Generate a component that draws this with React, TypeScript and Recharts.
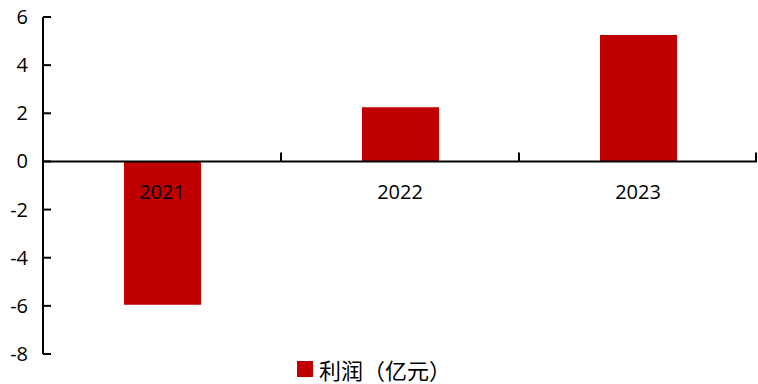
import React from 'react';
import { BarChart, Bar, XAxis, YAxis, ReferenceLine, Legend } from 'recharts';

const years = ['2021', '2022', '2023'];
const profit = [-5.95, 2.25, 5.25];
const yTicks = [-8, -6, -4, -2, 0, 2, 4, 6];
const seriesName = '利润（亿元）';

const data = years.map((year, i) => ({ year, profit: profit[i] }));

const W = 758;
const H = 384;
const TOP = 17;
const PLOT_H = 337;
const Y_MIN = -8;
const Y_MAX = 6;
const zeroY = TOP + (PLOT_H * Y_MAX) / (Y_MAX - Y_MIN);
const FONT = '"Open Sans", "Noto Sans CJK SC", sans-serif';

const YTick = (props: any) => {
  const { x, y, payload } = props;
  return (
    <g>
      <line x1={x} y1={y} x2={x + 8} y2={y} stroke="#000" strokeWidth={2} />
      <text x={x - 15} y={y} dy={7} textAnchor="end" fontSize={20} fontFamily={FONT} fill="#000">
        {payload.value}
      </text>
    </g>
  );
};

const XTick = (props: any) => {
  const { x, payload, index, visibleTicksCount } = props;
  const half = 119;
  return (
    <g>
      {index > 0 && (
        <line x1={x - half} y1={zeroY - 9} x2={x - half} y2={zeroY} stroke="#000" strokeWidth={2} />
      )}
      {index === visibleTicksCount - 1 && (
        <line x1={x + half - 1} y1={zeroY - 9} x2={x + half - 1} y2={zeroY} stroke="#000" strokeWidth={2} />
      )}
      <text x={x} y={zeroY + 38} textAnchor="middle" fontSize={20} fontFamily={FONT} fill="#000">
        {payload.value}
      </text>
    </g>
  );
};

const LegendContent = () => (
  <div style={{ display: 'flex', alignItems: 'center', paddingLeft: 297, height: 28 }}>
    <span style={{ width: 16, height: 16, background: '#C00000', display: 'inline-block' }} />
    <span
      style={{
        marginLeft: 6,
        fontSize: 22,
        fontFamily: '"Noto Sans CJK SC", sans-serif',
        color: '#000',
        lineHeight: '22px',
        whiteSpace: 'nowrap',
      }}
    >
      {seriesName}
    </span>
  </div>
);

export default function App() {
  return (
    <div style={{ position: 'absolute', left: 0, top: 0, width: W, height: H, background: '#fff' }}>
      <BarChart
        width={W}
        height={H}
        data={data}
        margin={{ top: TOP, right: 1, left: 0, bottom: 1 }}
      >
        <XAxis
          dataKey="year"
          axisLine={false}
          tickLine={false}
          tick={<XTick />}
          interval={0}
          height={1}
        />
        <YAxis
          domain={[Y_MIN, Y_MAX]}
          ticks={yTicks}
          width={43}
          tickSize={0}
          tickMargin={0}
          tickLine={false}
          axisLine={{ stroke: '#000', strokeWidth: 2 }}
          tick={<YTick />}
          interval={0}
        />
        <ReferenceLine y={0} stroke="#000" strokeWidth={2} />
        <Legend verticalAlign="bottom" height={28} content={<LegendContent />} />
        <Bar dataKey="profit" name={seriesName} fill="#C00000" barSize={77} isAnimationActive={false} />
      </BarChart>
    </div>
  );
}
